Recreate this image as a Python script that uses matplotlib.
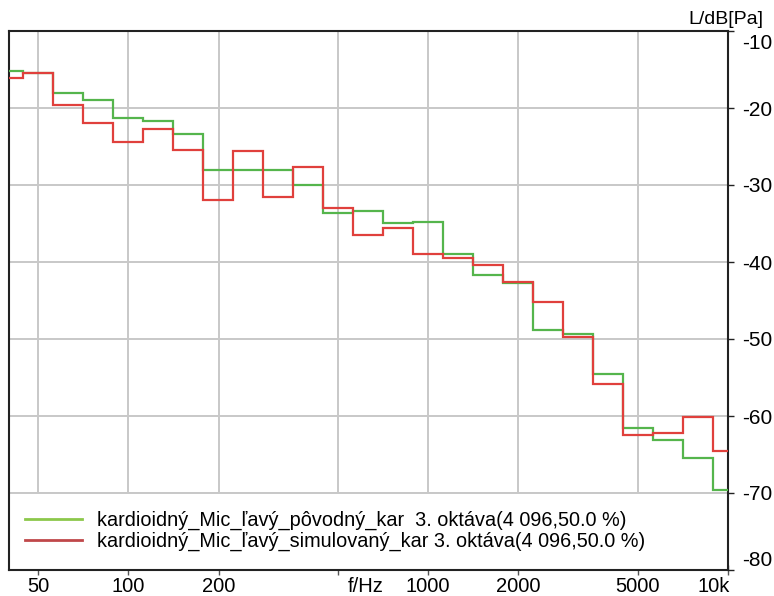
import numpy as np
import matplotlib
matplotlib.use("Agg")
import matplotlib.pyplot as plt
from matplotlib.lines import Line2D
from matplotlib.transforms import ScaledTranslation

plt.rcParams['font.family'] = ['Liberation Sans', 'DejaVu Sans']
plt.rcParams['axes.unicode_minus'] = False

# third-octave band centres (Hz) and levels (dB re Pa)
bands = [40, 50, 63, 80, 100, 125, 160, 200, 250, 315, 400, 500, 630, 800,
         1000, 1250, 1600, 2000, 2500, 3150, 4000, 5000, 6300, 8000, 10000]
original = [-15.2, -15.4, -18.0, -19.0, -21.3, -21.7, -23.4, -28.0, -28.0, -28.0,
            -30.0, -33.6, -33.4, -34.9, -34.8, -38.9, -41.7, -42.7, -48.8, -49.4,
            -54.6, -61.5, -63.1, -65.4, -69.6]
simulated = [-16.1, -15.4, -19.6, -21.9, -24.4, -22.7, -25.4, -31.9, -25.6, -31.5,
             -27.6, -33.0, -36.5, -35.6, -38.9, -39.5, -40.4, -42.6, -45.2, -49.8,
             -55.9, -62.5, -62.2, -60.1, -64.6]

label_orig = "kardioidný_Mic_ľavý_pôvodný_kar  3. oktáva(4 096,50.0 %)"
label_sim = "kardioidný_Mic_ľavý_simulovaný_kar 3. oktáva(4 096,50.0 %)"

xticks = [50, 100, 200, 500, 1000, 2000, 5000, 10000]
xticklabels = ['50', '100', '200', 'f/Hz', '1000', '2000', '5000', '10k']
yticks = [-80, -70, -60, -50, -40, -30, -20, -10]

green = '#55b54c'
red = '#e0403c'
grid_c = '#c8c8c8'

# band edges halfway (log) between centres
idx = np.round(10 * np.log10(bands))
edges = 10 ** (np.append(idx - 0.5, idx[-1] + 0.5) / 10)

fig = plt.figure(figsize=(7.74, 5.96), dpi=100)
ax = fig.add_axes([9 / 774, 26 / 596, 719 / 774, 539 / 596])

ax.stairs(original, edges, baseline=None, color=green, lw=1.6, zorder=3)
ax.stairs(simulated, edges, baseline=None, color=red, lw=1.6, zorder=4)

ax.set_xscale('log')
ax.set_xlim(40, 10000)
ax.set_ylim(-80, -10)
ax.minorticks_off()
ax.set_xticks(xticks)
ax.set_xticklabels(xticklabels)
ax.set_yticks(yticks)
ax.yaxis.tick_right()

ax.set_axisbelow(True)
ax.grid(True, color=grid_c, lw=1.4)

# legend area at the bottom hides the grid
ax.axhspan(-80, -70, facecolor='white', edgecolor='none', zorder=1)
ax.axhline(-70, color=grid_c, lw=1.4, zorder=1.1)

for s in ax.spines.values():
    s.set_linewidth(1.5)
    s.set_color('#222222')

ax.tick_params(axis='x', direction='inout', length=7, width=1, color='#555555',
               labelsize=14.5, pad=1.5)
ax.tick_params(axis='y', direction='out', length=4, width=1, color='#222222',
               labelsize=15, pad=6)

ylabels = ax.get_yticklabels()
ylabels[0].set_va('bottom')
ylabels[-1].set_va('top')
ylabels[-1].set_transform(ylabels[-1].get_transform() + ScaledTranslation(0, -0.03, fig.dpi_scale_trans))

xlabels = ax.get_xticklabels()
xlabels[3].set_ha('left')
xlabels[3].set_transform(xlabels[3].get_transform() + ScaledTranslation(0.1, 0, fig.dpi_scale_trans))
xlabels[-1].set_ha('right')
xlabels[-1].set_transform(xlabels[-1].get_transform() + ScaledTranslation(0.02, 0, fig.dpi_scale_trans))

handles = [Line2D([], [], color='#8cc84b', lw=2), Line2D([], [], color='#c0474a', lw=2)]
ax.legend(handles, [label_orig, label_sim], loc='lower left', bbox_to_anchor=(0.011, 0.02),
          frameon=False, fontsize=14.3, handlelength=2.87, handletextpad=0.75,
          labelspacing=0.1, borderaxespad=0)

fig.text(726 / 774, 1 - 20 / 596, 'L/dB[Pa]', ha='center', va='center', fontsize=14)

fig.savefig('out.png', dpi=100)
